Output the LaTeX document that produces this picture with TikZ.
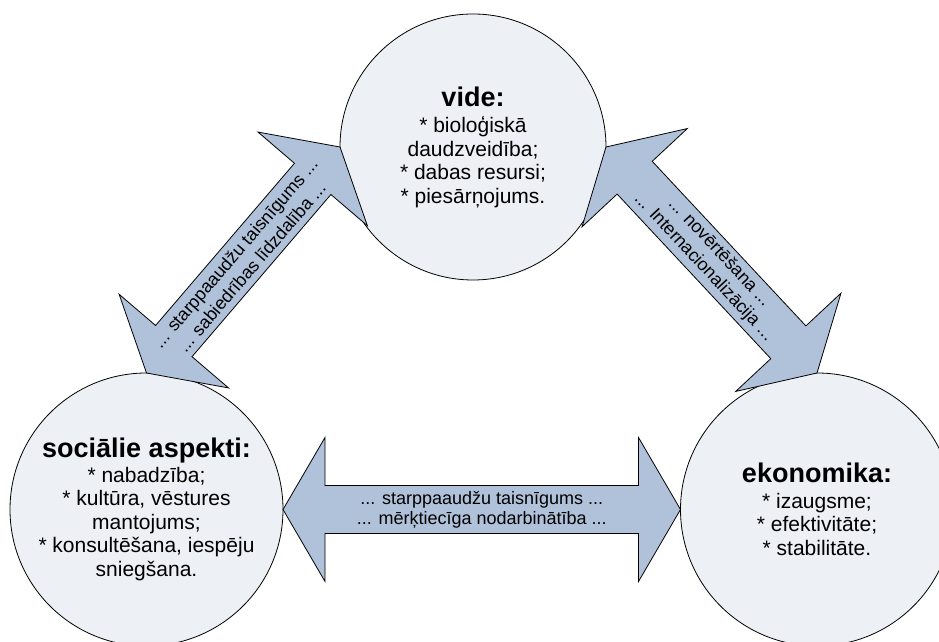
\documentclass[tikz,border=0pt]{standalone}
\usepackage{fontspec}
\setmainfont{Liberation Sans}
\usetikzlibrary{calc}
\definecolor{circfill}{RGB}{237,240,245}
\definecolor{arrowfill}{RGB}{176,194,218}
\tikzset{
  topic/.style={circle, draw=black, line width=0.8pt, fill=circfill, inner sep=0pt,
    outer sep=0pt, align=center, font=\fontsize{21}{23.5}\selectfont},
  band/.style={draw=black, line width=0.8pt, fill=arrowfill, line join=miter},
  bandlabel/.style={align=center, font=\fontsize{18}{20}\selectfont, inner sep=0pt},
  slantlabel/.style={bandlabel, font=\fontsize{18}{21.5}\selectfont, sloped},
}
\newcommand\heading[1]{{\fontsize{27}{27}\selectfont\bfseries #1}}
% double-headed block arrow from #1 to #2; #3 prefixes its helper points
\newcommand\twoway[3]{%
  \coordinate (#3a) at ($(#1)!42pt!(#2)$);
  \coordinate (#3b) at ($(#2)!42pt!(#1)$);
  \draw[band] (#1) -- ($(#3a)!72pt!90:(#2)$) -- ($(#3a)!24pt!90:(#2)$)
    -- ($(#3b)!24pt!-90:(#1)$) -- ($(#3b)!72pt!-90:(#1)$) -- (#2)
    -- ($(#3b)!72pt!90:(#1)$) -- ($(#3b)!24pt!90:(#1)$)
    -- ($(#3a)!24pt!-90:(#2)$) -- ($(#3a)!72pt!-90:(#2)$) -- cycle;
}
\begin{document}
\begin{tikzpicture}
\useasboundingbox (0,0) rectangle (939pt,642pt);
\clip (0,0) rectangle (939pt,642pt);

% the three themes
\node[topic, minimum size=266pt] (vide) at (473pt,495pt)
  {\heading{vide:}\\[3pt]* bioloģiskā\\daudzveidība;\\* dabas resursi;\\* piesārņojums.};
\node[topic, minimum size=273pt] (soc) at (146.5pt,132.5pt)
  {\heading{sociālie aspekti:}\\[1pt]* nabadzība;\\* kultūra, vēstures\\mantojums;\\* konsultēšana, iespēju\\sniegšana.};
\node[topic, minimum size=273pt] (eko) at (817pt,132.5pt)
  {\heading{ekonomika:}\\[2pt]* izaugsme;\\* efektivitāte;\\* stabilitāte.};

% links between them
\twoway{soc.north}{vide.west}{l}
\twoway{vide.east}{eko.north}{r}
\twoway{soc.east}{eko.west}{b}

\path (soc.north) -- (vide.west) node[slantlabel, midway] (ltext)
  {... starppaaudžu taisnīgums ...\\... sabiedrības līdzdalība ...};
\path (vide.east) -- (eko.north) node[slantlabel, midway] (rtext)
  {... novērtēšana ...\\... Internacionalizācija ...};
\path (soc.east) -- (eko.west) node[bandlabel, midway] (btext)
  {... starppaaudžu taisnīgums ...\\... mērķtiecīga nodarbinātība ...};
\end{tikzpicture}
\end{document}
